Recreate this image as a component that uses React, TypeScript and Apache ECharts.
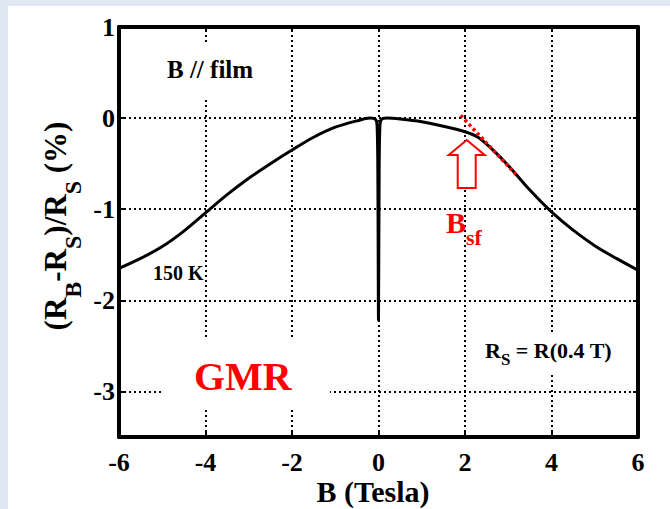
import React, { useEffect, useRef } from 'react';
import * as echarts from 'echarts';

// Magnetic field B (Tesla) and relative resistance change (%)
const fieldB = [-6, -5.5, -5, -4.5, -4, -3.5, -3, -2.5, -2, -1.5, -1, -0.5, -0.2, -0.06, -0.03, -0.015, 0, 0.015, 0.03, 0.06, 0.2, 0.5, 1, 1.5, 2, 2.3, 2.6, 3, 3.5, 4, 4.5, 5, 5.5, 6];
const deltaR = [-1.65, -1.54, -1.41, -1.24, -1.04, -0.84, -0.66, -0.5, -0.35, -0.21, -0.1, -0.03, 0, -0.02, -0.12, -0.6, -2.22, -0.6, -0.12, -0.02, 0, -0.01, -0.04, -0.09, -0.15, -0.21, -0.33, -0.52, -0.79, -1.03, -1.23, -1.4, -1.54, -1.67];

// tangent (red dotted) at the spin-flop field
const tangentB = [1.9, 3.2];
const tangentR = [0.03, -0.63];

// arrow tip position (data coords)
const arrowTip = [2.04, -0.24];

const xTickValues = [-6, -4, -2, 0, 2, 4, 6];
const yTickValues = [-3, -2, -1, 0, 1];
const xGridValues = [-4, -2, 0, 2, 4];
const yGridValues = [-3, -2, -1, 0];

const FONT = 'Liberation Serif';

export default function App() {
  const ref = useRef<HTMLDivElement>(null);
  useEffect(() => {
    const chart = echarts.init(ref.current!, null, { renderer: 'svg' });
    const lbl = { color: '#000', fontFamily: FONT, fontWeight: 'bold', fontSize: 26 };
    const tick = { show: true, inside: true, length: 5, lineStyle: { color: '#000', width: 2 } };
    const line = { show: true, onZero: false, lineStyle: { color: '#000', width: 4 } };

    const gridLines = [
      ...xGridValues.map((v) => ({ xAxis: v })),
      ...yGridValues.map((v) => ({ yAxis: v })),
    ];

    chart.setOption({
      animation: false,
      backgroundColor: 'transparent',
      grid: { left: 119, right: 32, top: 27, bottom: 72 },
      xAxis: [
        {
          type: 'value', min: -6, max: 6, interval: 2, position: 'bottom',
          axisLine: line, axisTick: tick, splitLine: { show: false },
          axisLabel: { ...lbl, margin: 12, customValues: xTickValues },
        },
        {
          type: 'value', min: -6, max: 6, interval: 2, position: 'top',
          axisLine: line, axisTick: tick, splitLine: { show: false },
          axisLabel: { show: false },
        },
      ],
      yAxis: [
        {
          type: 'value', min: -3.5, max: 1, position: 'left',
          axisLine: line, axisTick: { ...tick, customValues: yTickValues }, splitLine: { show: false },
          axisLabel: { ...lbl, margin: 4, customValues: yTickValues },
        },
        {
          type: 'value', min: -3.5, max: 1, position: 'right',
          axisLine: line, axisTick: { ...tick, customValues: yTickValues }, splitLine: { show: false },
          axisLabel: { show: false, customValues: yTickValues },
        },
      ],
      series: [
        {
          type: 'line',
          data: fieldB.map((b, i) => [b, deltaR[i]]),
          showSymbol: false,
          smooth: 0.3,
          lineStyle: { color: '#000', width: 3 },
          z: 5,
          markLine: {
            silent: true,
            symbol: ['none', 'none'],
            label: { show: false },
            lineStyle: { color: '#000', width: 2, type: [2, 3] },
            data: gridLines,
            z: 1,
          },
        },
        {
          type: 'line',
          data: tangentB.map((b, i) => [b, tangentR[i]]),
          showSymbol: false,
          lineStyle: { color: '#ff0000', width: 3.5, type: [3, 3] },
          z: 6,
        },
      ],
    });

    const tip = chart.convertToPixel({ gridIndex: 0 }, arrowTip) as number[];

    const m = (size: number, fill: string) => ({ fontFamily: FONT, fontWeight: 'bold', fontSize: size, verticalAlign: 'top', fill });
    const s = (size: number, pad: number, fill: string) => ({ fontFamily: FONT, fontWeight: 'bold', fontSize: size, verticalAlign: 'top', padding: [pad, 0, 0, 0], fill });

    chart.setOption({
      graphic: [
        // white boxes behind annotation texts
        { type: 'rect', z: 50, shape: { x: 160, y: 42, width: 110, height: 56 }, style: { fill: '#fff' } },
        { type: 'rect', z: 50, shape: { x: 161, y: 337, width: 169, height: 73 }, style: { fill: '#fff' } },
        { type: 'rect', z: 50, shape: { x: 480, y: 332, width: 140, height: 40 }, style: { fill: '#fff' } },
        {
          type: 'text', z: 60, x: 167, y: 69,
          style: { text: 'B // film', fill: '#000', fontFamily: FONT, fontWeight: 'bold', fontSize: 25, verticalAlign: 'middle' },
        },
        {
          type: 'text', z: 60, x: 153, y: 273,
          style: { text: '150 K', fill: '#000', fontFamily: FONT, fontWeight: 'bold', fontSize: 20, verticalAlign: 'middle' },
        },
        {
          type: 'text', z: 60, x: 194, y: 376,
          style: { text: 'GMR', fill: '#ff0000', fontFamily: FONT, fontWeight: 'bold', fontSize: 40, verticalAlign: 'middle' },
        },
        {
          type: 'text', z: 60, x: 485, y: 339,
          style: {
            text: '{m|R}{s|S}{m| = R(0.4 T)}',
            fill: '#000', verticalAlign: 'top', align: 'left',
            rich: { m: m(22, '#000'), s: s(17, 12, '#000') },
          },
        },
        {
          type: 'text', z: 60, x: 446, y: 207,
          style: {
            text: '{m|B}{s|sf}',
            fill: '#ff0000', verticalAlign: 'top', align: 'left',
            rich: { m: m(30, '#ff0000'), s: s(22, 19, '#ff0000') },
          },
        },
        {
          type: 'polygon', z: 60, x: tip[0], y: tip[1],
          shape: { points: [[0, 0], [18, 15], [9, 15], [9, 48], [-9, 48], [-9, 15], [-18, 15]] },
          style: { fill: '#fff', stroke: '#ff0000', lineWidth: 2 },
        },
        {
          type: 'text', z: 60, x: 373, y: 491,
          style: { text: 'B (Tesla)', fill: '#000', fontFamily: FONT, fontWeight: 'bold', fontSize: 30, align: 'center', verticalAlign: 'middle' },
        },
        {
          type: 'text', z: 60, x: 40, y: 226, rotation: Math.PI / 2,
          style: {
            text: '{m|(R}{s|B}{m|-R}{s|S}{m|)/R}{s|S}{m| (%)}',
            fill: '#000', align: 'center', verticalAlign: 'top',
            rich: { m: m(31, '#000'), s: s(24, 21, '#000') },
          },
        },
      ],
    });

    return () => chart.dispose();
  }, []);

  return (
    <div style={{ position: 'fixed', left: 0, top: 0, width: 670, height: 509, background: '#dfe7f2' }}>
      <div style={{ position: 'absolute', left: 8, top: 6, right: 0, bottom: 0, background: '#fff' }} />
      <div ref={ref} style={{ position: 'absolute', left: 0, top: 0, width: 670, height: 509 }} />
    </div>
  );
}
